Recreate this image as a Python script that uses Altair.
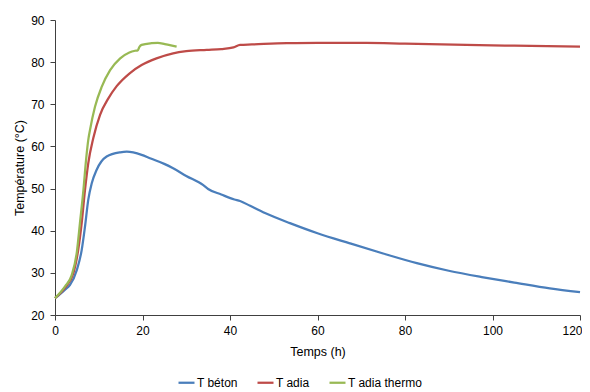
import altair as alt
import pandas as pd

series_names = ["T béton", "T adia", "T adia thermo"]
series_colors = ["#4A7EBB", "#BE4B48", "#98B954"]

beton_h = [0, 0.4, 2.3, 3.4, 5.0, 6.1, 6.86, 7.6, 8.4, 9.5, 11.8, 14.9, 16.4, 19.8,
           21.7, 25.1, 27, 30, 33.9, 35, 38, 41, 42.3, 44.6, 48, 53.7, 60, 67.4,
           75, 82.7, 90, 97.9, 105, 113.1, 120]
beton_t = [24.0, 24.3, 26.0, 27.1, 30.7, 35.4, 41.0, 47.3, 51.25, 54.4, 57.6, 58.6,
           58.75, 58.0, 57.2, 55.8, 54.8, 53.0, 50.8, 49.9, 48.6, 47.4, 47.05, 45.9,
           44.2, 41.8, 39.4, 37.0, 34.6, 32.3, 30.5, 28.95, 27.7, 26.3, 25.4]

adia_h = [0, 2.3, 4.2, 5.3, 6.1, 6.86, 7.6, 8.76, 10.3, 12.2, 14.1, 17.0, 19.8, 23.2,
          27, 30, 34.7, 38, 40.8, 42.3, 45, 53, 60, 71.2, 80, 94, 105, 120]
adia_t = [24.0, 26.5, 29.9, 35.4, 41.8, 49.7, 56.0, 62.0, 67.5, 71.4, 74.3, 77.3,
          79.3, 80.9, 82.1, 82.6, 82.9, 83.1, 83.5, 84.1, 84.2, 84.5, 84.6, 84.6,
          84.4, 84.1, 83.9, 83.7]

thermo_h = [0, 2.3, 3.8, 5.0, 5.7, 6.5, 7.1, 7.6, 8.0, 9.14, 10.7, 12.6, 14.9, 17.0,
            18.3, 18.9, 19.3, 19.8, 22.1, 23.5, 25.1, 26.5, 27.8]
thermo_t = [24.0, 26.8, 29.4, 35.0, 41.8, 49.7, 56.8, 61.5, 63.9, 69.4, 74.2, 78.1,
            80.9, 82.3, 82.7, 82.8, 83.6, 84.1, 84.5, 84.6, 84.3, 84.0, 83.7]

x_ticks = [0, 20, 40, 60, 80, 100, 120]
y_ticks = [20, 30, 40, 50, 60, 70, 80, 90]

rows = []
for name, hs, ts in zip(series_names, [beton_h, adia_h, thermo_h], [beton_t, adia_t, thermo_t]):
    for h, t in zip(hs, ts):
        rows.append({"Temps": h, "Temp": t, "Série": name})
df = pd.DataFrame(rows)

FONT = "Liberation Sans"
AXIS_COLOR = "#404040"

chart = alt.Chart(df).mark_line(strokeWidth=2.25, interpolate="monotone").encode(
    x=alt.X("Temps:Q", scale=alt.Scale(domain=[0, 120], nice=False, zero=False),
            axis=alt.Axis(values=x_ticks, title="Temps (h)", grid=False, tickSize=5,
                          labelPadding=5, titlePadding=9, format="d",
                          labelAlign=alt.ExprRef("datum.value == 120 ? 'right' : 'center'"),
                          labelOffset=alt.ExprRef("datum.value == 120 ? 2 : 0"))),
    y=alt.Y("Temp:Q", scale=alt.Scale(domain=[20, 90], nice=False, zero=False),
            axis=alt.Axis(values=y_ticks, title="Température (°C)", grid=False, tickSize=5,
                          labelPadding=6, titlePadding=4, format="d")),
    color=alt.Color("Série:N", scale=alt.Scale(domain=series_names, range=series_colors),
                    legend=alt.Legend(orient="none", direction="horizontal", title=None,
                                      legendX=122, legendY=353, padding=0,
                                      symbolType="stroke", symbolSize=256,
                                      symbolStrokeWidth=2.25, labelOffset=1,
                                      columnPadding=15, labelFont=FONT, labelFontSize=12,
                                      labelColor="#000000")),
).properties(
    width=525, height=295,
    padding={"left": 47, "top": 12, "right": 2, "bottom": 78},
    autosize=alt.AutoSizeParams(type="none"),
).configure_view(stroke=None).configure_axis(
    domainColor=AXIS_COLOR, tickColor=AXIS_COLOR, domainWidth=1, tickWidth=1,
    labelFont=FONT, labelFontSize=12, labelColor="#000000",
    titleFont=FONT, titleFontSize=12.5, titleFontWeight="normal", titleColor="#000000",
)

chart.save("out.html", embed_options={"renderer": "svg", "actions": False})
